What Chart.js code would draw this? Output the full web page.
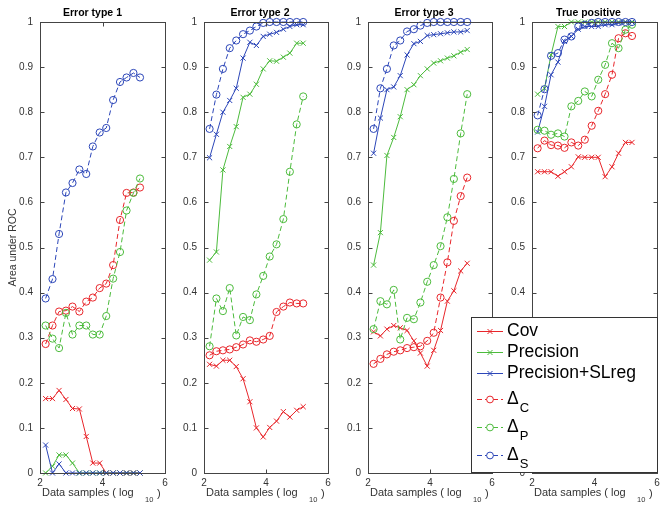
<!DOCTYPE html>
<html>
<head>
<meta charset="utf-8">
<script src="https://cdn.jsdelivr.net/npm/chart.js@4.4.0/dist/chart.umd.min.js"></script>
<style>
    body { margin: 0; background: #fff; }
    #wrap { position: relative; width: 668px; height: 512px; overflow: hidden; background: #fff; }
    canvas { position: absolute; top: 0; }
</style>
</head>
<body>
<div id="wrap">
    <canvas id="c1" width="173" height="512" style="left:0px"></canvas>
    <canvas id="c2" width="172" height="512" style="left:164px"></canvas>
    <canvas id="c3" width="172" height="512" style="left:328px"></canvas>
    <canvas id="c4" width="202" height="512" style="left:466px"></canvas>
</div>
<script>
// x = log10 of data samples
const samplesLog = [2.18, 2.40, 2.61, 2.83, 3.04, 3.26, 3.48, 3.69, 3.91, 4.12, 4.34, 4.56, 4.77, 4.99, 5.20];

const panelTitles = ['Error type 1', 'Error type 2', 'Error type 3', 'True positive'];
const seriesNames = ['Cov', 'Precision', 'Precision+SLreg', 'Δ', 'Δ', 'Δ'];
const seriesSubs = ['', '', '', 'C', 'P', 'S'];
const xTicks = [2, 4, 6];
const yTicks = [0, 0.1, 0.2, 0.3, 0.4, 0.5, 0.6, 0.7, 0.8, 0.9, 1];

// Error type 1
const e1Cov    = [0.165, 0.165, 0.183, 0.163, 0.143, 0.142, 0.081, 0.022, 0.022, 0, 0, 0, 0, 0, 0];
const e1Prec   = [0, 0.015, 0.04, 0.04, 0.022, 0, 0, 0, 0, 0, 0, 0, 0, 0, 0];
const e1PrecSL = [0.062, 0, 0.02, 0, 0, 0, 0, 0, 0, 0, 0, 0, 0, 0, 0];
const e1DeltaC = [0.286, 0.327, 0.358, 0.36, 0.369, 0.358, 0.38, 0.389, 0.41, 0.42, 0.461, 0.561, 0.621, 0.622, 0.633];
const e1DeltaP = [0.327, 0.298, 0.277, 0.355, 0.307, 0.327, 0.327, 0.307, 0.307, 0.348, 0.431, 0.49, 0.582, 0.621, 0.653];
const e1DeltaS = [0.387, 0.43, 0.53, 0.622, 0.643, 0.673, 0.663, 0.724, 0.755, 0.765, 0.827, 0.867, 0.877, 0.887, 0.877];

// Error type 2
const e2Cov    = [0.241, 0.237, 0.25, 0.25, 0.236, 0.209, 0.158, 0.1, 0.08, 0.101, 0.115, 0.136, 0.124, 0.139, 0.147];
const e2Prec   = [0.472, 0.49, 0.672, 0.724, 0.768, 0.833, 0.84, 0.862, 0.896, 0.914, 0.913, 0.922, 0.931, 0.953, 0.953];
const e2PrecSL = [0.699, 0.751, 0.8, 0.826, 0.853, 0.92, 0.955, 0.948, 0.968, 0.973, 0.977, 0.984, 0.99, 0.994, 0.994];
const e2DeltaC = [0.261, 0.27, 0.272, 0.274, 0.279, 0.285, 0.294, 0.291, 0.296, 0.304, 0.357, 0.369, 0.378, 0.376, 0.376];
const e2DeltaP = [0.281, 0.387, 0.359, 0.41, 0.305, 0.346, 0.339, 0.396, 0.437, 0.48, 0.507, 0.563, 0.668, 0.773, 0.835];
const e2DeltaS = [0.763, 0.839, 0.896, 0.942, 0.959, 0.973, 0.981, 0.99, 0.998, 1, 1, 1, 1, 1, 1];

// Error type 3
const e3Cov    = [0.313, 0.304, 0.319, 0.327, 0.322, 0.316, 0.293, 0.266, 0.237, 0.272, 0.316, 0.381, 0.404, 0.448, 0.465];
const e3Prec   = [0.461, 0.533, 0.704, 0.744, 0.79, 0.85, 0.861, 0.881, 0.896, 0.909, 0.914, 0.92, 0.925, 0.933, 0.939];
const e3PrecSL = [0.709, 0.787, 0.85, 0.856, 0.881, 0.927, 0.952, 0.957, 0.97, 0.972, 0.974, 0.976, 0.978, 0.978, 0.981];
const e3DeltaC = [0.242, 0.253, 0.263, 0.269, 0.272, 0.277, 0.279, 0.281, 0.293, 0.311, 0.389, 0.467, 0.559, 0.614, 0.655];
const e3DeltaP = [0.319, 0.381, 0.374, 0.406, 0.296, 0.344, 0.341, 0.378, 0.424, 0.461, 0.503, 0.567, 0.652, 0.753, 0.84];
const e3DeltaS = [0.763, 0.853, 0.896, 0.948, 0.959, 0.979, 0.984, 0.992, 0.998, 1, 1, 1, 1, 1, 1];

// True positive
const tpCov    = [0.668, 0.668, 0.668, 0.658, 0.668, 0.679, 0.701, 0.7, 0.7, 0.7, 0.657, 0.679, 0.709, 0.733, 0.733];
const tpPrec   = [0.84, 0.853, 0.927, 0.99, 0.99, 1, 1, 1, 1, 1, 1, 1, 1, 1, 1];
const tpPrecSL = [0.756, 0.813, 0.883, 0.911, 0.957, 0.968, 0.984, 0.99, 0.99, 0.99, 0.994, 0.994, 0.998, 1, 1];
const tpDeltaC = [0.72, 0.737, 0.727, 0.726, 0.721, 0.733, 0.726, 0.739, 0.77, 0.803, 0.84, 0.883, 0.964, 0.975, 0.969];
const tpDeltaP = [0.761, 0.759, 0.75, 0.753, 0.746, 0.813, 0.825, 0.846, 0.835, 0.872, 0.905, 0.953, 0.942, 0.983, 0.994];
const tpDeltaS = [0.793, 0.851, 0.925, 0.931, 0.961, 0.968, 0.99, 0.994, 0.998, 1, 1, 1, 1, 1, 1];

const panelData = [
    [e1Cov, e1Prec, e1PrecSL, e1DeltaC, e1DeltaP, e1DeltaS],
    [e2Cov, e2Prec, e2PrecSL, e2DeltaC, e2DeltaP, e2DeltaS],
    [e3Cov, e3Prec, e3PrecSL, e3DeltaC, e3DeltaP, e3DeltaS],
    [tpCov, tpPrec, tpPrecSL, tpDeltaC, tpDeltaP, tpDeltaS]
];

const RED = '#e8262b';
const GREEN = '#4cbb3c';
const BLUE = '#2c46b8';
const seriesColors = [RED, GREEN, BLUE, RED, GREEN, BLUE];
const FONT = '"Liberation Sans", Arial, Helvetica, sans-serif';
const AXIS = '#444';

// y-axis width inside each canvas (plot left edge), right padding, title shift
const axisWidths = [40, 40, 40, 66];
const rightPads = [8, 8, 8, 11];
const titleShift = [-10, -6, -6, -6];

function makeDatasets(values) {
    return values.map((vals, i) => {
        const isDelta = i >= 3;
        return {
            label: seriesNames[i] + seriesSubs[i],
            data: samplesLog.map((x, k) => ({ x: x, y: vals[k] })),
            borderColor: seriesColors[i],
            backgroundColor: 'rgba(0,0,0,0)',
            borderWidth: 1,
            borderDash: isDelta ? [5, 3] : [],
            pointStyle: isDelta ? 'circle' : 'crossRot',
            pointRadius: 3.6,
            pointBorderWidth: 1,
            pointBorderColor: seriesColors[i],
            pointBackgroundColor: 'rgba(0,0,0,0)',
            tension: 0,
            clip: false,
            order: 6 - i
        };
    });
}

function drawLegend(ctx) {
    const bx = 5, by = 317, bw = 186, bh = 155;
    ctx.save();
    ctx.fillStyle = '#fff';
    ctx.fillRect(bx, by, bw, bh);
    ctx.strokeStyle = '#333';
    ctx.lineWidth = 1;
    ctx.strokeRect(bx + 0.5, by + 0.5, bw, bh);
    const rows = [331, 352, 373, 399, 427, 455];
    rows.forEach((y, i) => {
        const c = seriesColors[i];
        ctx.strokeStyle = c;
        ctx.lineWidth = 1;
        ctx.setLineDash(i >= 3 ? [5, 3] : []);
        ctx.beginPath();
        ctx.moveTo(11, y + 0.5);
        ctx.lineTo(37, y + 0.5);
        ctx.stroke();
        ctx.setLineDash([]);
        ctx.beginPath();
        if (i >= 3) {
            ctx.fillStyle = '#fff';
            ctx.arc(24, y + 0.5, 3.4, 0, Math.PI * 2);
            ctx.fill();
            ctx.stroke();
        } else {
            ctx.moveTo(21.5, y - 2);
            ctx.lineTo(26.5, y + 3);
            ctx.moveTo(26.5, y - 2);
            ctx.lineTo(21.5, y + 3);
            ctx.stroke();
        }
        ctx.fillStyle = '#000';
        ctx.textBaseline = 'middle';
        ctx.textAlign = 'left';
        ctx.font = '17.5px ' + FONT;
        ctx.fillText(seriesNames[i], 41, y);
        if (seriesSubs[i]) {
            const w = ctx.measureText(seriesNames[i]).width;
            ctx.font = '13px ' + FONT;
            ctx.fillText(seriesSubs[i], 42 + w, y + 9);
        }
    });
    ctx.restore();
}

const framePlugin = {
    id: 'frame',
    afterDraw(chart) {
        const ctx = chart.ctx;
        const a = chart.chartArea;
        const xs = chart.scales.x;
        const ys = chart.scales.y;
        const idx = chart.options.panelIndex;
        ctx.save();
        ctx.strokeStyle = AXIS;
        ctx.lineWidth = 1;
        const L = Math.round(a.left) + 0.5, R = Math.round(a.right) + 0.5;
        const T = Math.round(a.top) + 0.5, B = Math.round(a.bottom) + 0.5;
        ctx.strokeRect(L, T, R - L, B - T);
        ctx.beginPath();
        yTicks.forEach(v => {
            const y = Math.round(ys.getPixelForValue(v)) + 0.5;
            ctx.moveTo(L, y); ctx.lineTo(L + 4, y);
            ctx.moveTo(R, y); ctx.lineTo(R - 4, y);
        });
        xTicks.forEach(v => {
            const x = Math.round(xs.getPixelForValue(v)) + 0.5;
            ctx.moveTo(x, B); ctx.lineTo(x, B - 4);
            ctx.moveTo(x, T); ctx.lineTo(x, T + 4);
        });
        ctx.stroke();

        // panel title
        ctx.fillStyle = '#000';
        ctx.font = 'bold 10.5px ' + FONT;
        ctx.textAlign = 'center';
        ctx.textBaseline = 'middle';
        ctx.fillText(panelTitles[idx], (a.left + a.right) / 2 + titleShift[idx], 13);

        // x axis title with subscript
        ctx.fillStyle = '#333';
        ctx.textAlign = 'left';
        ctx.font = '11px ' + FONT;
        ctx.fillText('Data samples ( log', a.left + 2, 493);
        ctx.fillText(')', a.left + 117, 494);
        ctx.font = '7.5px ' + FONT;
        ctx.fillText('10', a.left + 105, 500);

        if (idx === 0) {
            ctx.save();
            ctx.translate(13, (a.top + a.bottom) / 2);
            ctx.rotate(-Math.PI / 2);
            ctx.textAlign = 'center';
            ctx.font = '10.5px ' + FONT;
            ctx.fillText('Area under ROC', 0, 0);
            ctx.restore();
        }
        if (idx === 3) {
            drawLegend(ctx);
        }
        ctx.restore();
    }
};

panelData.forEach((values, p) => {
    const ctx = document.getElementById('c' + (p + 1)).getContext('2d');
    new Chart(ctx, {
        type: 'line',
        data: { datasets: makeDatasets(values) },
        options: {
            panelIndex: p,
            responsive: false,
            animation: false,
            devicePixelRatio: 1,
            layout: { padding: { top: 22, right: rightPads[p], bottom: 0, left: 0 } },
            plugins: {
                legend: { display: false },
                title: { display: false },
                tooltip: { enabled: false }
            },
            scales: {
                x: {
                    type: 'linear',
                    min: 2,
                    max: 6,
                    grid: { display: false, drawTicks: false },
                    border: { display: false },
                    ticks: {
                        stepSize: 2,
                        padding: 4,
                        color: '#333',
                        font: { family: FONT, size: 10 },
                        maxRotation: 0
                    },
                    afterFit: s => { s.height = 39; }
                },
                y: {
                    min: 0,
                    max: 1,
                    grid: { display: false, drawTicks: false },
                    border: { display: false },
                    ticks: {
                        stepSize: 0.1,
                        padding: 7,
                        color: '#333',
                        font: { family: FONT, size: 10 },
                        callback: v => String(Math.round(v * 10) / 10)
                    },
                    afterFit: s => { s.width = axisWidths[p]; }
                }
            }
        },
        plugins: [framePlugin]
    });
});
</script>
</body>
</html>
